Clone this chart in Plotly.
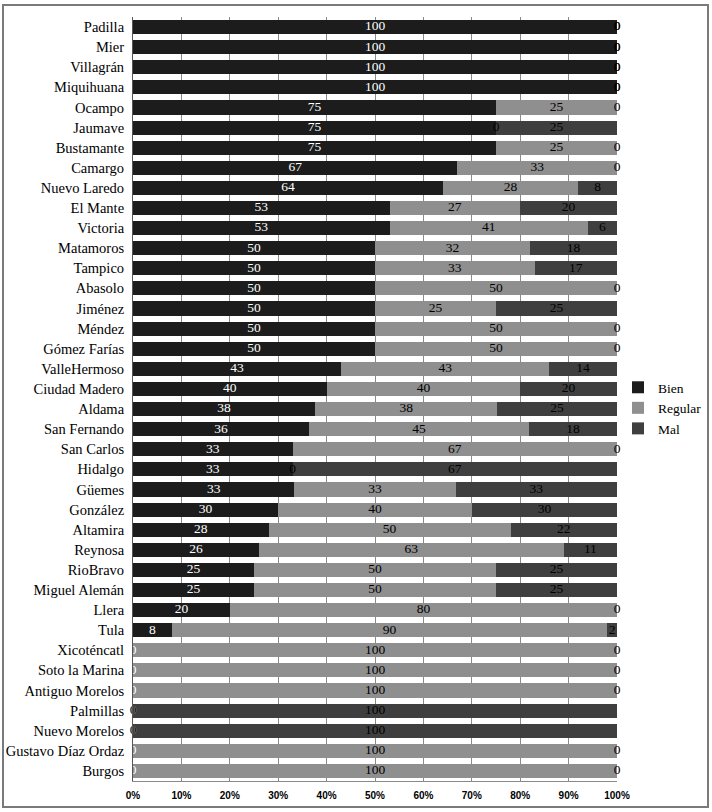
import plotly.graph_objects as go

municipios = ["Padilla", "Mier", "Villagrán", "Miquihuana", "Ocampo", "Jaumave", "Bustamante",
              "Camargo", "Nuevo Laredo", "El Mante", "Victoria", "Matamoros", "Tampico", "Abasolo",
              "Jiménez", "Méndez", "Gómez Farías", "ValleHermoso", "Ciudad Madero", "Aldama",
              "San Fernando", "San Carlos", "Hidalgo", "Güemes", "González", "Altamira", "Reynosa",
              "RioBravo", "Miguel Alemán", "Llera", "Tula", "Xicoténcatl", "Soto la Marina",
              "Antiguo Morelos", "Palmillas", "Nuevo Morelos", "Gustavo Díaz Ordaz", "Burgos"]

bien = [100, 100, 100, 100, 75, 75, 75, 67, 64, 53, 53, 50, 50, 50, 50, 50, 50, 43, 40, 38,
        36, 33, 33, 33, 30, 28, 26, 25, 25, 20, 8, 0, 0, 0, 0, 0, 0, 0]
regular = [0, 0, 0, 0, 25, 0, 25, 33, 28, 27, 41, 32, 33, 50, 25, 50, 50, 43, 40, 38,
           45, 67, 0, 33, 40, 50, 63, 50, 50, 80, 90, 100, 100, 100, 0, 0, 100, 100]
mal = [0, 0, 0, 0, 0, 25, 0, 0, 8, 20, 6, 18, 17, 0, 25, 0, 0, 14, 20, 25,
       18, 0, 67, 33, 30, 22, 11, 25, 25, 0, 2, 0, 0, 0, 100, 100, 0, 0]

series_names = ["Bien", "Regular", "Mal"]
series_values = [bien, regular, mal]
series_colors = ["#1c1c1c", "#8f8f8f", "#3f3f3f"]
label_colors = ["#ffffff", "#000000", "#000000"]
tick_vals = [0, 10, 20, 30, 40, 50, 60, 70, 80, 90, 100]
tick_text = [f"{v}%" for v in tick_vals]

serif = "Liberation Serif"

fig = go.Figure()
totals = [b + r + m for b, r, m in zip(bien, regular, mal)]

for name, vals, col in zip(series_names, series_values, series_colors):
    fig.add_trace(go.Bar(
        name=name, y=municipios, x=vals, orientation="h",
        marker=dict(color=col, line=dict(width=0)),
        textposition="none", hoverinfo="x+y+name",
    ))

# value labels positioned from the (normalised) data
cum = [0.0] * len(municipios)
for vals, lc in zip(series_values, label_colors):
    xs = []
    for i, v in enumerate(vals):
        xs.append((cum[i] + v / 2.0) / totals[i] * 100.0)
        cum[i] += v
    fig.add_trace(go.Scatter(
        x=xs, y=municipios, mode="text", text=[str(v) for v in vals],
        textfont=dict(family=serif, size=13.5, color=lc),
        showlegend=False, hoverinfo="skip", cliponaxis=False,
    ))

W, H = 712, 812
L, R, T, B = 133, 95, 17, 31
pw, ph = W - L - R, H - T - B

def px(xp):
    return (xp - L) / pw

def py(yp):
    return 1 - (yp - T) / ph

n = len(municipios)
fig.update_layout(
    width=W, height=H,
    margin=dict(l=L, r=R, t=T, b=B, autoexpand=False),
    barmode="stack", barnorm="percent", bargap=0.3,
    paper_bgcolor="white", plot_bgcolor="white",
    font=dict(family=serif, size=13, color="#000000"),
    showlegend=True,
    legend=dict(x=px(618), y=py(372), xanchor="left", yanchor="top",
                traceorder="normal",
                font=dict(family=serif, size=13.5, color="#000000"),
                bgcolor="rgba(0,0,0,0)", borderwidth=0, tracegroupgap=0,
                itemwidth=30),
    xaxis=dict(range=[0, 100], tickvals=tick_vals, ticktext=tick_text,
               showgrid=True, gridcolor="#8a8a8a", gridwidth=1,
               showline=True, linecolor="#8a8a8a", linewidth=1,
               zeroline=False, ticks="", ticklabelstandoff=5,
               tickfont=dict(family="Liberation Sans Narrow, Arial Narrow, Liberation Sans, sans-serif",
                             size=10, color="#000000", weight="bold")),
    yaxis=dict(categoryorder="array", categoryarray=municipios,
               range=[n - 0.5, -0.5], autorange=False,
               showline=True, linecolor="#555555", linewidth=1, showgrid=False,
               ticks="", ticklabelstandoff=5,
               tickfont=dict(family=serif, size=14.5, color="#000000")),
    shapes=[dict(type="rect", xref="paper", yref="paper",
                 x0=px(3), x1=px(708), y0=py(807), y1=py(5),
                 line=dict(color="#7a7a7a", width=2), fillcolor="rgba(0,0,0,0)", layer="below")],
)

fig.write_html("out.html", config={"displayModeBar": False},
               post_script="document.body.style.margin='0';")
